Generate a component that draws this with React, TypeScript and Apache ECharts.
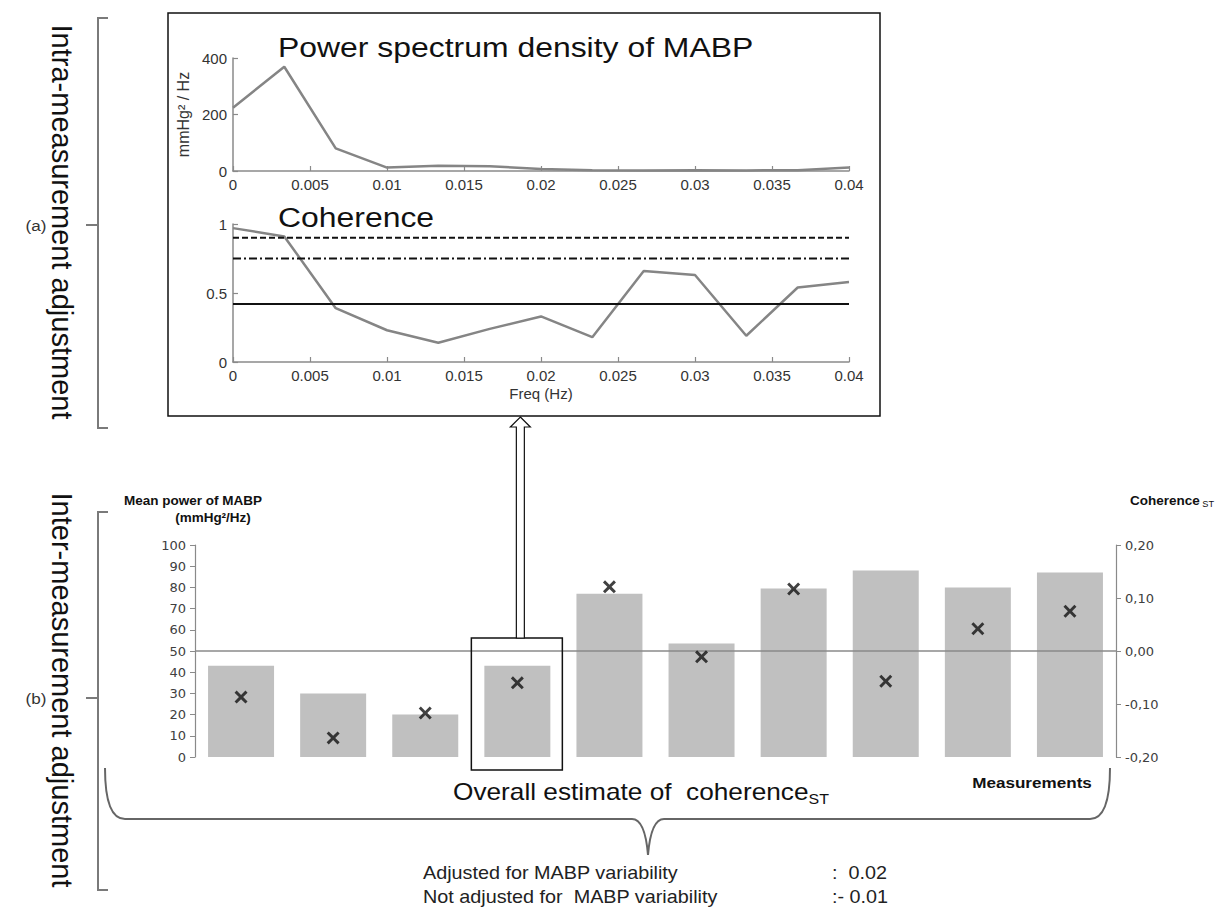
import React, { useEffect, useRef } from "react";
import * as echarts from "echarts";

// Intra-measurement spectra (frequency resolution 1/300 Hz)
const freqHz = [0, 0.00333, 0.00667, 0.01, 0.01333, 0.01667, 0.02, 0.02333, 0.02667, 0.03, 0.03333, 0.03667, 0.04];
const psdMabp = [224, 369, 80, 12, 19, 17, 7, 3, 2, 3, 2, 3, 12];
const coherenceValues = [0.97, 0.91, 0.39, 0.23, 0.14, 0.24, 0.33, 0.18, 0.66, 0.63, 0.19, 0.54, 0.58];
const thresholdDashed = 0.9;
const thresholdDashDot = 0.75;
const thresholdSolid = 0.42;

// Inter-measurement summary
const measurements = ["1", "2", "3", "4", "5", "6", "7", "8", "9", "10"];
const meanPowerMabp = [43, 30, 20, 43, 77, 53.5, 79.5, 88, 80, 87];
const coherenceST = [-0.087, -0.164, -0.117, -0.06, 0.121, -0.011, 0.117, -0.057, 0.042, 0.075];
const selectedMeasurement = 3;

// Overall estimates
const adjustedEstimate = "0.02";
const notAdjustedEstimate = "- 0.01";

const SANS = "Liberation Sans, Arial, sans-serif";
const VERD = "DejaVu Sans, Verdana, sans-serif";
const STRETCH = 1.14;

const crossSymbol =
  "path://M0,1.6 L1.6,0 L5,3.4 L8.4,0 L10,1.6 L6.6,5 L10,8.4 L8.4,10 L5,6.6 L1.6,10 L0,8.4 L3.4,5 Z";

const fmtFreq = (v: number) => (v === 0 ? "0" : String(parseFloat(v.toFixed(3))));
const fmtComma = (v: number) => (Math.abs(v) < 1e-9 ? "0,00" : v.toFixed(2).replace(".", ","));

const matlabAxis = {
  axisLine: { show: true, lineStyle: { color: "#8a8a8a", width: 1.5 } },
  axisTick: { show: true, inside: true, length: 5, lineStyle: { color: "#8a8a8a", width: 1.2 } },
  axisLabel: { color: "#333", fontSize: 15, fontFamily: SANS, margin: 6 },
  splitLine: { show: false },
};

export default function App() {
  const ref = useRef<HTMLDivElement>(null);

  useEffect(() => {
    if (!ref.current) return;
    echarts.graphic.registerShape(
      "brace",
      echarts.graphic.extendPath(
        "M105,768 Q105,819 125,819 L632,819 Q645,819 648,855 Q651,819 664,819 L1090,819 Q1110,819 1110,768",
        {}
      )
    );
    const chart = echarts.init(ref.current, null, { renderer: "svg" });

    const option: any = {
      animation: false,
      backgroundColor: "#fff",
      grid: [
        { left: 233, right: 369, top: 58, height: 113 },
        { left: 233, right: 369, top: 224, height: 138 },
        { left: 195, right: 102, top: 545, height: 212 },
      ],
      xAxis: [
        { ...matlabAxis, type: "value", gridIndex: 0, min: 0, max: 0.04, interval: 0.005,
          axisLabel: { ...matlabAxis.axisLabel, formatter: fmtFreq } },
        { ...matlabAxis, type: "value", gridIndex: 1, min: 0, max: 0.04, interval: 0.005,
          axisLabel: { ...matlabAxis.axisLabel, formatter: fmtFreq },
          name: "Freq (Hz)", nameLocation: "middle", nameGap: 24,
          nameTextStyle: { color: "#333", fontSize: 15, fontFamily: SANS } },
        { type: "category", gridIndex: 2, data: measurements,
          axisLine: { show: false }, axisTick: { show: false }, axisLabel: { show: false } },
      ],
      yAxis: [
        { ...matlabAxis, type: "value", gridIndex: 0, min: 0, max: 400, interval: 200,
          name: "mmHg² / Hz", nameLocation: "middle", nameGap: 42, nameRotate: 90,
          nameTextStyle: { color: "#333", fontSize: 16, fontFamily: SANS } },
        { ...matlabAxis, type: "value", gridIndex: 1, min: 0, max: 1, interval: 0.5 },
        { type: "value", gridIndex: 2, position: "left", min: 0, max: 100, interval: 10,
          axisLine: { show: true, lineStyle: { color: "#8a8a8a", width: 1.2 } },
          axisTick: { show: true, length: 5, lineStyle: { color: "#8a8a8a" } },
          axisLabel: { color: "#404040", fontSize: 13, fontFamily: VERD, margin: 9 },
          splitLine: { show: false } },
        { type: "value", gridIndex: 2, position: "right", min: -0.2, max: 0.2, interval: 0.1,
          axisLine: { show: true, lineStyle: { color: "#8a8a8a", width: 1.2 } },
          axisTick: { show: true, length: 5, lineStyle: { color: "#8a8a8a" } },
          axisLabel: { color: "#404040", fontSize: 13, fontFamily: VERD, margin: 9, formatter: fmtComma },
          splitLine: { show: false } },
      ],
      series: [
        { type: "line", xAxisIndex: 0, yAxisIndex: 0, symbol: "none",
          lineStyle: { color: "#858585", width: 2.5 },
          data: freqHz.map((f, i) => [f, psdMabp[i]]) },
        { type: "line", xAxisIndex: 1, yAxisIndex: 1, symbol: "none",
          lineStyle: { color: "#858585", width: 2.5 },
          data: freqHz.map((f, i) => [f, coherenceValues[i]]) },
        { type: "line", xAxisIndex: 1, yAxisIndex: 1, symbol: "none", z: 3,
          lineStyle: { color: "#111", width: 2, type: [6, 3] },
          data: [[freqHz[0], thresholdDashed], [freqHz[freqHz.length - 1], thresholdDashed]] },
        { type: "line", xAxisIndex: 1, yAxisIndex: 1, symbol: "none", z: 3,
          lineStyle: { color: "#111", width: 2, type: [8, 3, 2, 3] },
          data: [[freqHz[0], thresholdDashDot], [freqHz[freqHz.length - 1], thresholdDashDot]] },
        { type: "line", xAxisIndex: 1, yAxisIndex: 1, symbol: "none", z: 3,
          lineStyle: { color: "#111", width: 2 },
          data: [[freqHz[0], thresholdSolid], [freqHz[freqHz.length - 1], thresholdSolid]] },
        { type: "bar", xAxisIndex: 2, yAxisIndex: 2, barWidth: 66,
          itemStyle: { color: "#c0c0c0" },
          data: meanPowerMabp,
          markLine: { silent: true, symbol: "none", label: { show: false },
            lineStyle: { color: "#8a8a8a", width: 1.5, type: "solid" },
            data: [{ yAxis: 50 }] } },
        { type: "scatter", xAxisIndex: 2, yAxisIndex: 3, symbol: crossSymbol, symbolSize: 13, z: 5,
          itemStyle: { color: "#111" },
          data: coherenceST },
      ],
    };
    chart.setOption(option);

    const cx = chart.convertToPixel({ xAxisIndex: 2 }, measurements[selectedMeasurement]) as number;
    const y0 = chart.convertToPixel({ yAxisIndex: 2 }, 0) as number;
    const y50 = chart.convertToPixel({ yAxisIndex: 2 }, 50) as number;
    const boxTop = y50 - 13;
    const boxBottom = y0 + 13;
    const ax = cx + 3;
    const topBoxBottom = 416;

    const txt = (o: any) => ({ type: "text", z: 10, ...o });

    chart.setOption({
      graphic: [
        // frame round the intra-measurement panels
        { type: "rect", z: 10, shape: { x: 168, y: 13, width: 712, height: topBoxBottom - 13 },
          style: { fill: "none", stroke: "#111", lineWidth: 1.5 } },
        txt({ x: 278, y: 47, scaleX: STRETCH, style: { text: "Power spectrum density of MABP", fill: "#111",
          font: `28px ${SANS}`, textAlign: "left", textVerticalAlign: "middle" } }),
        txt({ x: 278, y: 217, scaleX: STRETCH, style: { text: "Coherence", fill: "#111",
          font: `28px ${SANS}`, textAlign: "left", textVerticalAlign: "middle" } }),
        // frame round the selected measurement
        { type: "rect", z: 10, shape: { x: cx - 46, y: boxTop, width: 91, height: boxBottom - boxTop },
          style: { fill: "none", stroke: "#111", lineWidth: 1.5 } },
        // hollow arrow up to the spectra
        { type: "polygon", z: 10, shape: { points: [
          [ax, topBoxBottom + 1], [ax + 10, topBoxBottom + 11], [ax + 4, topBoxBottom + 11],
          [ax + 4, boxTop], [ax - 4, boxTop], [ax - 4, topBoxBottom + 11], [ax - 10, topBoxBottom + 11]] },
          style: { fill: "#fff", stroke: "#111", lineWidth: 1.2 } },
        // left brackets and labels
        { type: "polyline", z: 10, shape: { points: [[108, 18], [98, 18], [98, 428], [108, 428]] },
          style: { stroke: "#7a7a7a", lineWidth: 2, fill: "none" } },
        { type: "line", z: 10, shape: { x1: 98, y1: 225, x2: 86, y2: 225 }, style: { stroke: "#7a7a7a", lineWidth: 2 } },
        { type: "polyline", z: 10, shape: { points: [[108, 512], [98, 512], [98, 890], [108, 890]] },
          style: { stroke: "#7a7a7a", lineWidth: 2, fill: "none" } },
        { type: "line", z: 10, shape: { x1: 98, y1: 698, x2: 86, y2: 698 }, style: { stroke: "#7a7a7a", lineWidth: 2 } },
        txt({ x: 62, y: 222, rotation: -Math.PI / 2, style: { text: "Intra-measurement adjustment",
          fill: "#111", font: `29px ${SANS}`, textAlign: "center", textVerticalAlign: "middle" } }),
        txt({ x: 62, y: 690, rotation: -Math.PI / 2, style: { text: "Inter-measurement adjustment",
          fill: "#111", font: `29px ${SANS}`, textAlign: "center", textVerticalAlign: "middle" } }),
        txt({ x: 36, y: 225, scaleX: STRETCH, style: { text: "(a)", fill: "#333", font: `15px ${SANS}`,
          textAlign: "center", textVerticalAlign: "middle" } }),
        txt({ x: 36, y: 698, scaleX: STRETCH, style: { text: "(b)", fill: "#333", font: `15px ${SANS}`,
          textAlign: "center", textVerticalAlign: "middle" } }),
        // bar chart axis titles
        txt({ x: 193, y: 501, scaleX: 1.08, style: { text: "Mean power of MABP", fill: "#111",
          font: `bold 12.5px ${SANS}`, textAlign: "center", textVerticalAlign: "middle" } }),
        txt({ x: 213, y: 518, scaleX: 1.08, style: { text: "(mmHg²/Hz)", fill: "#111",
          font: `bold 12.5px ${SANS}`, textAlign: "center", textVerticalAlign: "middle" } }),
        txt({ x: 1130, y: 501, scaleX: 1.08, style: { text: "{a|Coherence}{s| ST}", textAlign: "left",
          textVerticalAlign: "middle",
          rich: { a: { fill: "#111", font: `bold 12.5px ${SANS}`, lineHeight: 16 },
                  s: { fill: "#111", font: `8.5px ${SANS}`, lineHeight: 9, padding: [7, 0, 0, 0] } } } }),
        txt({ x: 1032, y: 782, scaleX: STRETCH, style: { text: "Measurements", fill: "#111",
          font: `bold 15px ${SANS}`, textAlign: "center", textVerticalAlign: "middle" } }),
        txt({ x: 453, y: 792, scaleX: STRETCH, style: { text: "{a|Overall estimate of  coherence}{s|ST}",
          textAlign: "left", textVerticalAlign: "middle",
          rich: { a: { fill: "#111", font: `23px ${SANS}`, lineHeight: 28 },
                  s: { fill: "#111", font: `14px ${SANS}`, lineHeight: 14, padding: [14, 0, 0, 0] } } } }),
        // curly brace gathering all measurements
        { type: "brace", z: 10, x: 0, y: 0, style: { fill: "none", stroke: "#666", lineWidth: 2 } },
        // overall estimates
        txt({ x: 423, y: 873, scaleX: 1.1, style: { text: "Adjusted for MABP variability", fill: "#222",
          font: `18px ${SANS}`, textAlign: "left", textVerticalAlign: "middle" } }),
        txt({ x: 423, y: 897, scaleX: 1.1, style: { text: "Not adjusted for  MABP variability", fill: "#222",
          font: `18px ${SANS}`, textAlign: "left", textVerticalAlign: "middle" } }),
        txt({ x: 832, y: 873, scaleX: 1.1, style: { text: ":  " + adjustedEstimate, fill: "#222",
          font: `18px ${SANS}`, textAlign: "left", textVerticalAlign: "middle" } }),
        txt({ x: 832, y: 897, scaleX: 1.1, style: { text: ":" + notAdjustedEstimate, fill: "#222",
          font: `18px ${SANS}`, textAlign: "left", textVerticalAlign: "middle" } }),
      ],
    });

    return () => chart.dispose();
  }, []);

  return <div ref={ref} style={{ position: "absolute", left: 0, top: 0, width: 1218, height: 914 }} />;
}
